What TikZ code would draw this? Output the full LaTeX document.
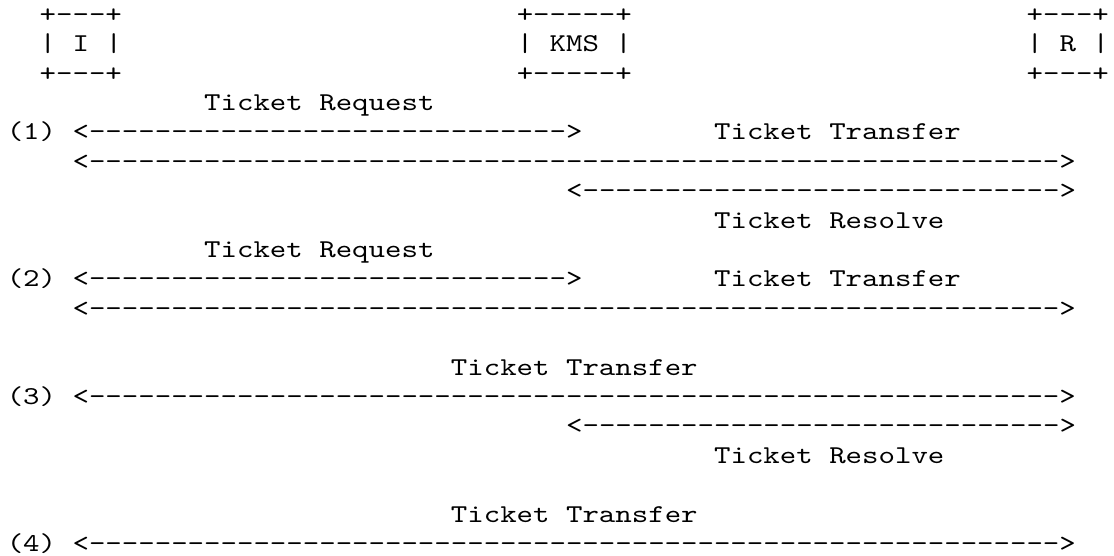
\documentclass[tikz,border=0pt]{standalone}
\usepackage{fontspec}
\setmonofont{lmmono10-regular.otf}[FakeStretch=1.219]
\newcommand{\asc}[4]{\node[txt] (#1) at ({6.8+#2*16.45},{22.3+(#3-1)*29.4}) {#4};}
\newcommand{\dten}{----------}
\newcommand{\shortarr}{<\dten\dten--------->}
\newcommand{\longarr}{<\dten\dten\dten\dten\dten--------->}
\begin{document}
\begin{tikzpicture}[x=1pt,y=-1pt,
  txt/.style={anchor=base west, inner sep=0pt, outer sep=0pt,
    font=\ttfamily\fontsize{25.7pt}{29.4pt}\selectfont, text=black}]
\useasboundingbox (0,0) rectangle (1114,556);
% boxes
\asc{itop}{2}{1}{+---+}
\asc{ktop}{31}{1}{+-----+}
\asc{rtop}{62}{1}{+---+}
\asc{il}{2}{2}{|}\asc{iname}{4}{2}{I}\asc{ir}{6}{2}{|}
\asc{kl}{31}{2}{|}\asc{kname}{33}{2}{KMS}\asc{kr}{37}{2}{|}
\asc{rl}{62}{2}{|}\asc{rname}{64}{2}{R}\asc{rr}{66}{2}{|}
\asc{ibot}{2}{3}{+---+}
\asc{kbot}{31}{3}{+-----+}
\asc{rbot}{62}{3}{+---+}
% (1)
\asc{req1}{12}{4}{Ticket Request}
\asc{n1}{0}{5}{(1)}
\asc{a1}{4}{5}{\shortarr}
\asc{tr1}{43}{5}{Ticket Transfer}
\asc{b1}{4}{6}{\longarr}
\asc{c1}{34}{7}{\shortarr}
\asc{res1}{43}{8}{Ticket Resolve}
% (2)
\asc{req2}{12}{9}{Ticket Request}
\asc{n2}{0}{10}{(2)}
\asc{a2}{4}{10}{\shortarr}
\asc{tr2}{43}{10}{Ticket Transfer}
\asc{b2}{4}{11}{\longarr}
% (3)
\asc{tr3}{27}{13}{Ticket Transfer}
\asc{n3}{0}{14}{(3)}
\asc{b3}{4}{14}{\longarr}
\asc{c3}{34}{15}{\shortarr}
\asc{res3}{43}{16}{Ticket Resolve}
% (4)
\asc{tr4}{27}{18}{Ticket Transfer}
\asc{n4}{0}{19}{(4)}
\asc{b4}{4}{19}{\longarr}
\end{tikzpicture}
\end{document}
